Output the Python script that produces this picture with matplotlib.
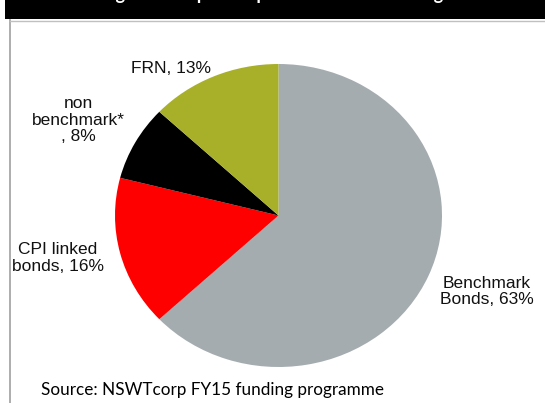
import numpy as np
import matplotlib.pyplot as plt
from matplotlib.patches import Rectangle
from matplotlib.lines import Line2D

plt.rcParams['font.family'] = ['Liberation Sans', 'DejaVu Sans']

# funding programme split by instrument
labels = ['Benchmark\nBonds, 63%', 'CPI linked\nbonds, 16%', 'non\nbenchmark*\n, 8%', 'FRN, 13%']
shares = [63, 16, 8, 13]
colors = ['#a5acaf', '#ff0000', '#000000', '#a8b02a']
# label anchor points in pie units
label_xy = [(1.275, -0.50), (-1.35, -0.28), (-1.226, 0.63), (-0.66, 0.967)]

fig = plt.figure(figsize=(5.45, 4.03), dpi=100)

# black title band and grey frame lines
fig.patches.append(Rectangle((5 / 545, 1 - 19 / 403), 1, 19 / 403, transform=fig.transFigure,
                             facecolor='black', edgecolor='none'))
fig.lines.append(Line2D([10 / 545, 10 / 545], [0, 1 - 20 / 403], transform=fig.transFigure,
                        color='#a0a0a0', lw=1.2))
fig.lines.append(Line2D([10 / 545, 1], [1 - 20.5 / 403, 1 - 20.5 / 403], transform=fig.transFigure,
                        color='#c0c0c0', lw=1))
# title sits mostly above the top edge, only the descenders show
fig.text(60 / 545, 1 + 6 / 403, 'Funding mix \u2013 expected profile of FY15 funding',
         color='white', fontsize=13, fontweight='bold', family=['Lato', 'DejaVu Sans'],
         ha='left', va='center')

ax = fig.add_axes([115 / 545, 36 / 403, 327 / 545, 303 / 403])
ax.pie(shares, colors=colors, startangle=90, counterclock=False,
       wedgeprops=dict(linewidth=0))
ax.set_aspect('auto')
ax.set_xlim(-1, 1)
ax.set_ylim(-1, 1)
ax.axis('off')

for lab, (x, y) in zip(labels, label_xy):
    ax.text(x, y, lab, ha='center', va='center', fontsize=12.5, color='#111111',
            linespacing=1.1, clip_on=False)

fig.text(41 / 545, 1 - 390 / 403, 'Source: NSWTcorp FY15 funding programme',
         fontsize=12.3, family=['Lato', 'DejaVu Sans'], ha='left', va='center')

fig.savefig('out.png', dpi=100)
